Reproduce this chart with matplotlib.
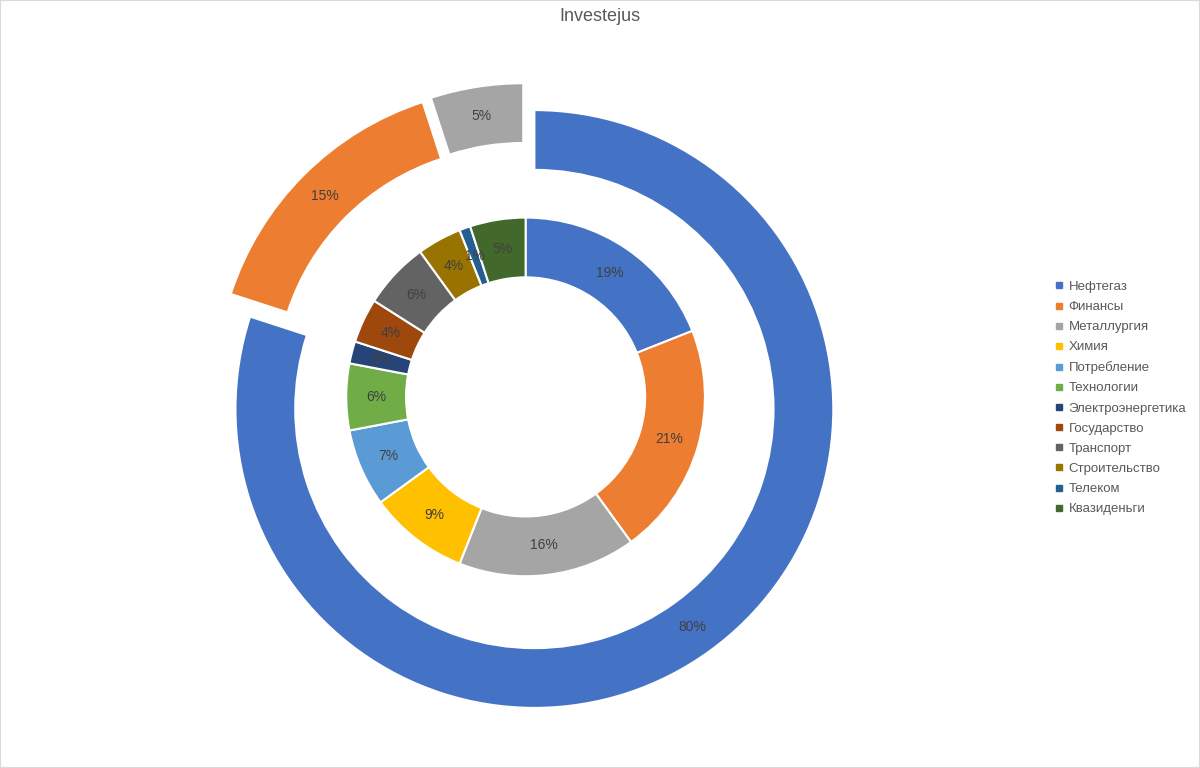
import matplotlib
matplotlib.use("Agg")
import matplotlib.pyplot as plt
import numpy as np
from matplotlib.lines import Line2D
from matplotlib.patches import Rectangle

plt.rcParams["font.family"] = ["Liberation Sans", "DejaVu Sans"]

title = "Investejus"

outer_values = [80, 15, 5]
outer_colors = ["#4472C4", "#ED7D31", "#A5A5A5"]

sectors = [
    "Нефтегаз", "Финансы", "Металлургия", "Химия", "Потребление", "Технологии",
    "Электроэнергетика", "Государство", "Транспорт", "Строительство", "Телеком", "Квазиденьги",
]
inner_values = [19, 21, 16, 9, 7, 6, 2, 4, 6, 4, 1, 5]
inner_colors = [
    "#4472C4", "#ED7D31", "#A5A5A5", "#FFC000", "#5B9BD5", "#70AD47",
    "#264478", "#9E480E", "#636363", "#997300", "#255E91", "#43682B",
]

label_color = "#404040"
text_color = "#595959"

fig = plt.figure(figsize=(12, 7.68), dpi=100)
ax = fig.add_axes([0.164, 0.0547, 0.548, 0.857])

edge = dict(edgecolor="white", linewidth=1.5)

ax.pie(
    outer_values, colors=outer_colors, radius=1.0, startangle=90, counterclock=False,
    explode=[0.05] * len(outer_values),
    wedgeprops=dict(width=0.2, **edge),
    autopct="%d%%", pctdistance=0.9,
    textprops=dict(color=label_color, fontsize=10),
    frame=True,
)
ax.pie(
    inner_values, colors=inner_colors, radius=0.6, startangle=90, counterclock=False,
    wedgeprops=dict(width=0.2, **edge),
    autopct="%d%%", pctdistance=0.5 / 0.6,
    textprops=dict(color=label_color, fontsize=10),
    frame=True,
)
ax.set_xlim(-1.1, 1.1)
ax.set_ylim(-1.1, 1.1)
ax.set_aspect("equal")
ax.axis("off")

fig.text(0.5, 0.99, title, ha="center", va="top", fontsize=13, color=text_color)

handles = [
    Line2D([], [], marker="s", linestyle="none", markersize=5, color=c) for c in inner_colors
]
fig.legend(
    handles, sectors, loc="upper left", bbox_to_anchor=(0.874, 0.643),
    frameon=False, fontsize=9.5, labelcolor=text_color,
    handlelength=0.6, handletextpad=0.4, labelspacing=0.6, borderpad=0,
)

fig.patches.append(Rectangle((0, 0), 1, 1, transform=fig.transFigure, fill=False,
                             edgecolor="#D9D9D9", linewidth=1.5))

fig.savefig("out.png", dpi=100)
